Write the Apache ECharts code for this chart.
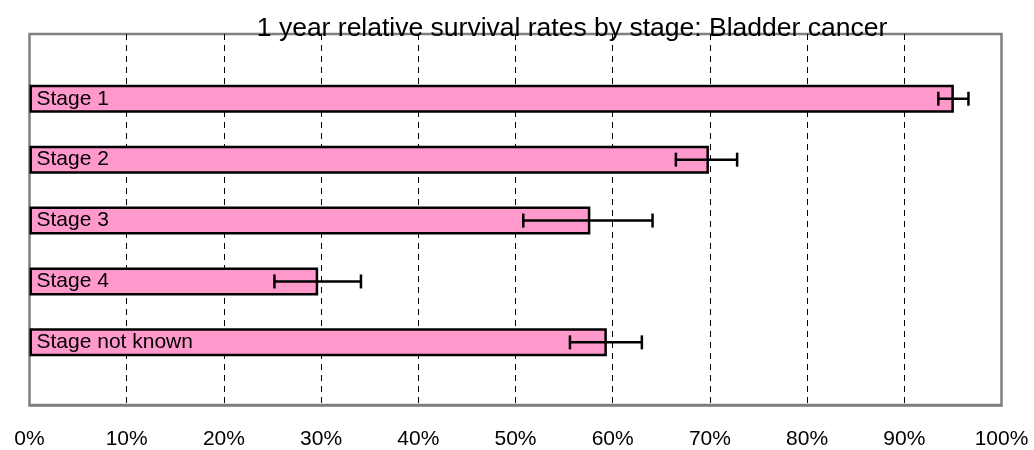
<!DOCTYPE html>
<html>
<head>
<meta charset="utf-8">
<script src="https://cdn.jsdelivr.net/npm/echarts@6/dist/echarts.min.js"></script>
<style>html,body{margin:0;padding:0;background:#fff;}#c{width:1034px;height:450px;}</style>
</head>
<body>
<div id="c"></div>
<script>
var titleText = '1 year relative survival rates by stage: Bladder cancer';
var categories = ['Stage 1', 'Stage 2', 'Stage 3', 'Stage 4', 'Stage not known'];
var survival = [95.1, 69.9, 57.7, 29.7, 59.4];
var ciLow = [93.5, 66.5, 50.8, 25.2, 55.6];
var ciHigh = [96.6, 72.8, 64.1, 34.1, 63.0];

var chart = echarts.init(document.getElementById('c'), null, {renderer: 'canvas'});
var FONT = 'Liberation Sans, Arial, sans-serif';
var errData = categories.map(function (c, i) { return [ciLow[i], ciHigh[i], i]; });

chart.setOption({
  animation: false,
  backgroundColor: '#ffffff',
  title: {
    text: titleText,
    left: 567, top: 10, textAlign: 'center',
    textStyle: {fontFamily: FONT, fontSize: 26.5, fontWeight: 'normal', color: '#000'}
  },
  grid: [
    {left: 29.5, top: 34, width: 972, height: 373, show: true, borderColor: '#808080', borderWidth: 2.5, backgroundColor: 'transparent'},
    {left: 29.5, top: 68.3, width: 972, height: 304.5}
  ],
  xAxis: [
    {type: 'value', gridIndex: 0, min: 0, max: 100, interval: 10,
     axisLine: {show: true, lineStyle: {color: '#808080', width: 2.5}},
     axisTick: {show: false},
     axisLabel: {formatter: '{value}%', fontFamily: FONT, fontSize: 21, color: '#000', margin: 24},
     splitLine: {show: true, showMinLine: false, showMaxLine: false, lineStyle: {color: '#000', type: [6, 5], width: 1}}},
    {type: 'value', gridIndex: 1, min: 0, max: 100, show: false, splitLine: {show: false}}
  ],
  yAxis: [
    {type: 'value', gridIndex: 0, min: 0, max: 1, show: false, splitLine: {show: false}},
    {type: 'category', gridIndex: 1, data: categories, inverse: true, show: false}
  ],
  series: [
    {type: 'bar', xAxisIndex: 1, yAxisIndex: 1, data: survival, barWidth: 28,
     itemStyle: {color: '#FF99CC', borderColor: '#000', borderWidth: 2.5},
     label: {show: true, position: 'insideLeft', distance: 7,
       formatter: function (p) { return p.name; },
       fontFamily: FONT, fontSize: 21, color: '#000'}},
    {type: 'custom', xAxisIndex: 1, yAxisIndex: 1, data: errData, z: 5,
     renderItem: function (params, api) {
       var lo = api.coord([api.value(0), api.value(2)]);
       var hi = api.coord([api.value(1), api.value(2)]);
       var h = 7;
       var st = {stroke: '#000', lineWidth: 2.5};
       return {type: 'group', children: [
         {type: 'line', shape: {x1: lo[0], y1: lo[1], x2: hi[0], y2: hi[1]}, style: st},
         {type: 'line', shape: {x1: lo[0], y1: lo[1] - h, x2: lo[0], y2: lo[1] + h}, style: st},
         {type: 'line', shape: {x1: hi[0], y1: hi[1] - h, x2: hi[0], y2: hi[1] + h}, style: st}
       ]};
     }}
  ]
});
</script>
</body>
</html>
